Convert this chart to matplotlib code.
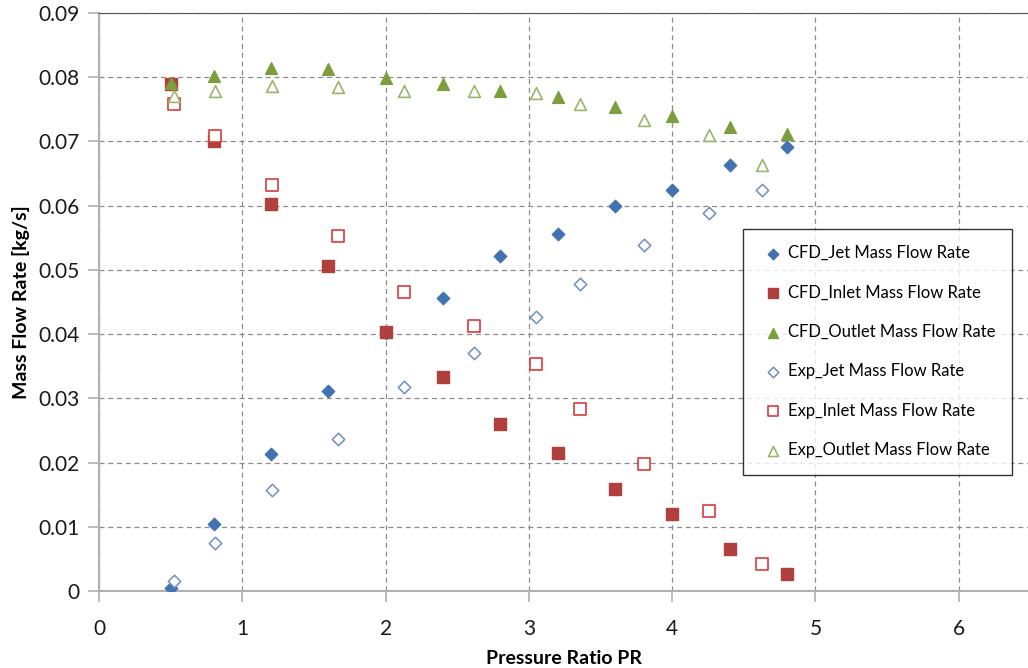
import numpy as np
import matplotlib.pyplot as plt

plt.rcParams['font.family'] = ['Lato', 'DejaVu Sans']

# CFD runs
pr_cfd = [0.5, 0.8, 1.2, 1.6, 2.0, 2.4, 2.8, 3.2, 3.6, 4.0, 4.4, 4.8]
cfd_jet = [0.0004, 0.0104, 0.0214, 0.0312, 0.0402, 0.0457, 0.0521, 0.0556, 0.0600, 0.0624, 0.0663, 0.0692]
cfd_inlet = [0.0789, 0.0700, 0.0602, 0.0506, 0.0403, 0.0333, 0.0260, 0.0215, 0.0159, 0.0120, 0.0065, 0.0026]
cfd_outlet = [0.0791, 0.0802, 0.0815, 0.0813, 0.0799, 0.0790, 0.0779, 0.0769, 0.0753, 0.0740, 0.0723, 0.0711]

# experiment
pr_exp = [0.52, 0.81, 1.21, 1.67, 2.13, 2.62, 3.05, 3.36, 3.80, 4.26, 4.63]
exp_jet = [0.0016, 0.0074, 0.0157, 0.0236, 0.0318, 0.0371, 0.0427, 0.0478, 0.0538, 0.0589, 0.0624]
exp_inlet = [0.0759, 0.0708, 0.0632, 0.0552, 0.0465, 0.0412, 0.0354, 0.0284, 0.0197, 0.0124, 0.0042]
exp_outlet = [0.0770, 0.0779, 0.0786, 0.0784, 0.0778, 0.0779, 0.0775, 0.0758, 0.0733, 0.0710, 0.0663]

blue = '#4372b0'
red = '#b0403d'
green = '#7d9e3c'

fig = plt.figure(figsize=(10.28, 6.68), dpi=100)
ax = fig.add_axes([99/1028, 77/668, 929/1028, 578/668])

ax.scatter(pr_cfd, cfd_jet, marker='D', s=40, color=blue, label='CFD_Jet Mass Flow Rate', zorder=3)
ax.scatter(pr_cfd, cfd_inlet, marker='s', s=80, color=red, label='CFD_Inlet Mass Flow Rate', zorder=3)
ax.scatter(pr_cfd, cfd_outlet, marker='^', s=72, color=green, label='CFD_Outlet Mass Flow Rate', zorder=3)
ax.scatter(pr_exp, exp_jet, marker='D', s=40, facecolor='white', edgecolor='#6e8fc0', linewidth=1.1,
           label='Exp_Jet Mass Flow Rate', zorder=3)
ax.scatter(pr_exp, exp_inlet, marker='s', s=80, facecolor='white', edgecolor='#d9393a', linewidth=1.2,
           label='Exp_Inlet Mass Flow Rate', zorder=3)
ax.scatter(pr_exp, exp_outlet, marker='^', s=72, facecolor='white', edgecolor='#9bb66a', linewidth=1.2,
           label='Exp_Outlet Mass Flow Rate', zorder=3)

ax.set_xlim(0, 6.483)
ax.set_ylim(0, 0.09)
ax.set_xticks(np.arange(0, 7, 1))
ax.set_yticks(np.arange(0, 0.091, 0.01))
ax.set_yticklabels(['0'] + ['%.2f' % v for v in np.arange(0.01, 0.091, 0.01)])

ax.grid(True, linestyle=(0, (4, 3)), color='#8c8c8c', linewidth=0.9)
ax.set_axisbelow(True)
ax.spines['right'].set_visible(False)
ax.spines['top'].set_color('#555555')
ax.spines['left'].set_color('#b0b0b0')
ax.spines['bottom'].set_color('#b0b0b0')
ax.spines['left'].set_linewidth(1.5)
ax.spines['bottom'].set_linewidth(1.5)
ax.tick_params(axis='both', direction='out', length=8, color='#b0b0b0', width=1.2,
               labelsize=15, labelcolor='#1a1a1a')
ax.tick_params(axis='x', pad=12)
ax.tick_params(axis='y', pad=6)

ax.set_xlabel('Pressure Ratio PR', fontsize=14, fontweight='bold', labelpad=8)
ax.set_ylabel('Mass Flow Rate [kg/s]', fontsize=14, fontweight='bold', labelpad=6)

leg = ax.legend(loc='upper left', bbox_to_anchor=(0.693, 0.627), borderaxespad=0,
                fontsize=12, frameon=True, fancybox=False, edgecolor='black',
                labelspacing=1.4, handletextpad=0.1, borderpad=1.0, handlelength=1.6,
                scatterpoints=1, markerscale=0.85)
leg.get_frame().set_linewidth(1.0)

fig.savefig('out.png', dpi=100)
